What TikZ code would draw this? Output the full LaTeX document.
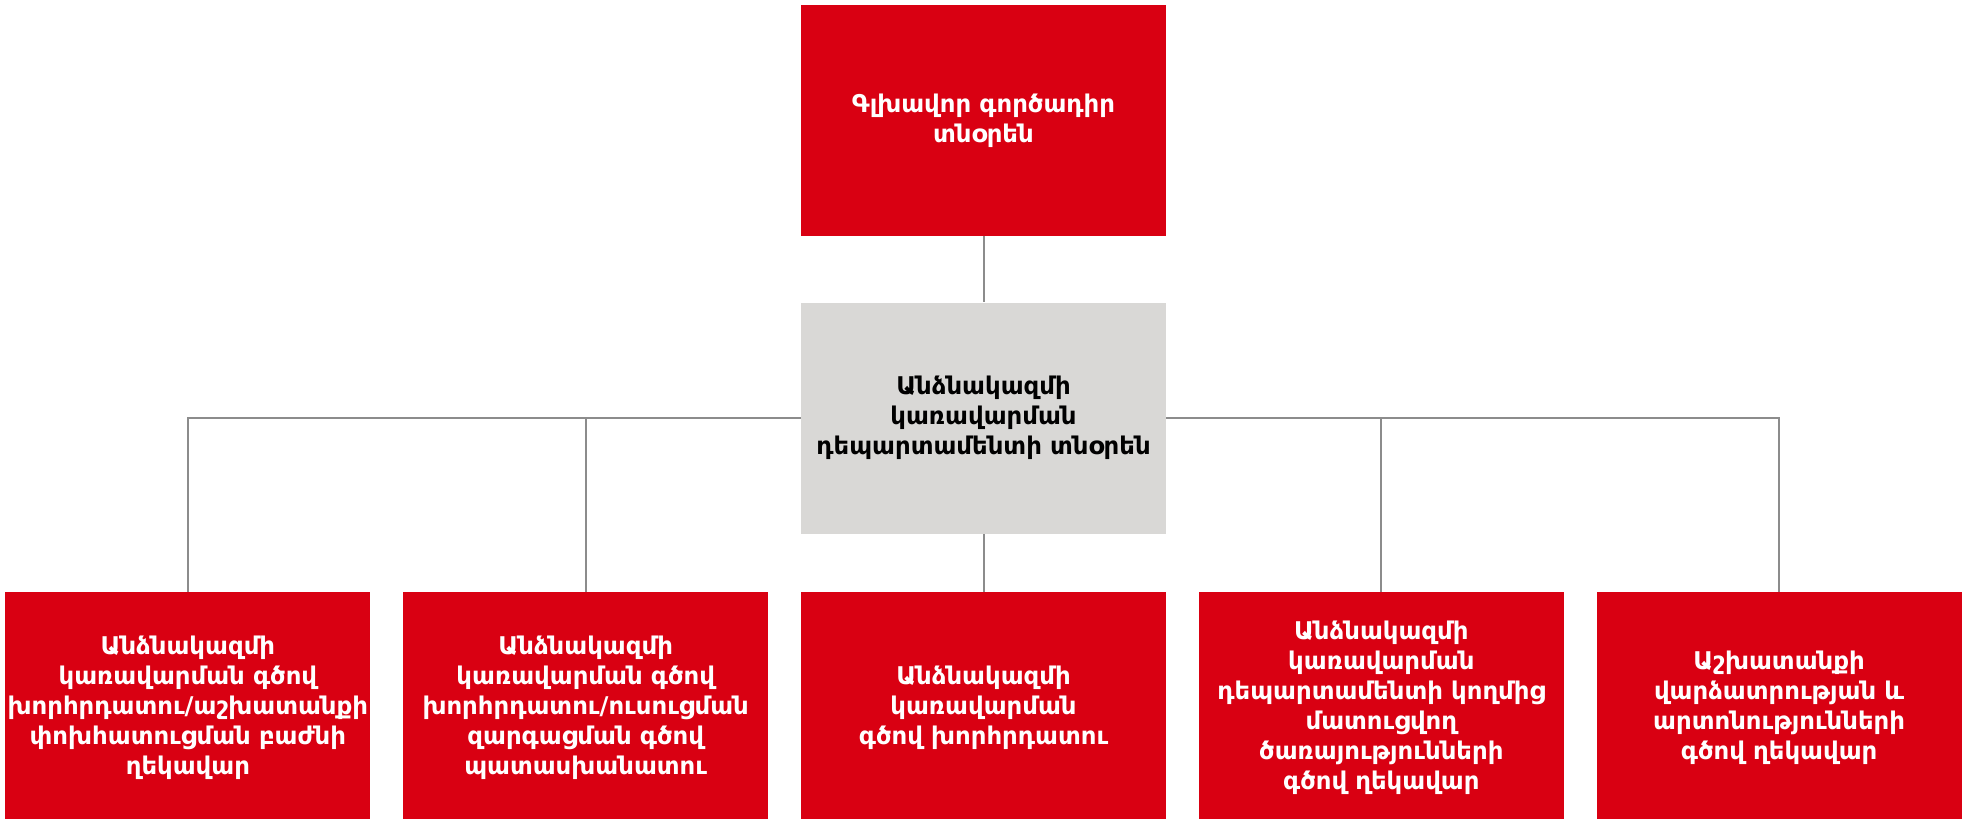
\documentclass[tikz,border=0pt]{standalone}
\usepackage{fontspec}
\setmainfont{DejaVu Sans}
\usetikzlibrary{positioning}
\definecolor{rouge}{HTML}{D90012}
\definecolor{gris}{HTML}{D9D8D6}
\definecolor{trait}{HTML}{8C8C8C}

\begin{document}
\begin{tikzpicture}[
      x=0.5pt,
      y=-0.5pt,
      poste/.style={
        fill=rouge,
        text=white,
        font=\bfseries\fontsize{12.2}{15}\selectfont,
        minimum width=182.5pt,
        minimum height=115.5pt,
        text width=181pt,
        inner sep=0pt,
        align=center
      },
      direction/.style={
        poste,
        fill=gris,
        text=black
      },
      lien/.style={
        draw=trait,
        line width=1pt
      }
    ]
    \useasboundingbox (0,0) rectangle (1966,819) ;

    \node[poste] (pdg) at (983.5,120.3) {Գլխավոր գործադիր\\տնօրեն} ;
    \node[direction, below=33pt of pdg] (drh) {Անձնակազմի\\կառավարման\\դեպարտամենտի տնօրեն} ;

    \node[poste, below=29pt of drh] (c3) {Անձնակազմի\\կառավարման\\գծով խորհրդատու} ;
    \node[poste, left=16pt of c3] (c2) {Անձնակազմի\\կառավարման գծով\\խորհրդատու/ուսուցման\\զարգացման գծով\\պատասխանատու} ;
    \node[poste, left=16pt of c2] (c1) {Անձնակազմի\\կառավարման գծով\\խորհրդատու/աշխատանքի\\փոխհատուցման բաժնի\\ղեկավար} ;
    \node[poste, right=16pt of c3] (c4) {Անձնակազմի\\կառավարման\\դեպարտամենտի կողմից\\մատուցվող\\ծառայությունների\\գծով ղեկավար} ;
    \node[poste, right=16pt of c4] (c5) {Աշխատանքի\\վարձատրության և\\արտոնությունների\\գծով ղեկավար} ;

    \draw[lien] (pdg) -- (drh) ;
    \draw[lien] (drh) -- (c3) ;
    \draw[lien] (drh.west) -| (c1) ;
    \draw[lien] (drh.west) -| (c2) ;
    \draw[lien] (drh.east) -| (c4) ;
    \draw[lien] (drh.east) -| (c5) ;
  \end{tikzpicture}
\end{document}
